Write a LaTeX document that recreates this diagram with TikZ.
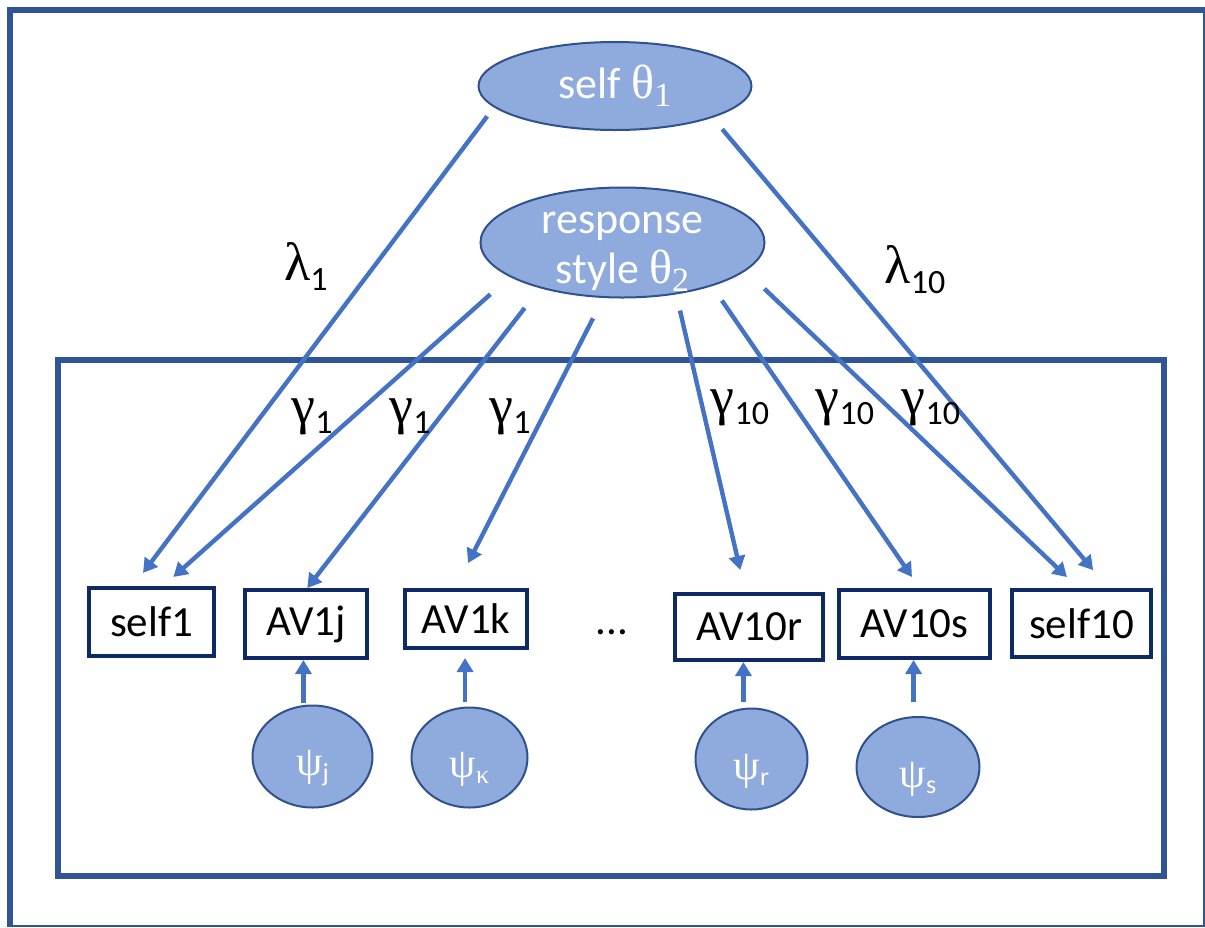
\documentclass[tikz,border=0pt]{standalone}
\usepackage{fontspec}
\setmainfont{Carlito}
\newfontfamily\grk{Liberation Serif}
\usetikzlibrary{arrows.meta,shapes.geometric}
\definecolor{ellfill}{HTML}{8FAADC}
\definecolor{elledge}{HTML}{2F528F}
\definecolor{arrc}{HTML}{4472C4}
\definecolor{boxc}{HTML}{0E2A66}
\definecolor{framec}{HTML}{2F5597}
\newcommand{\gk}[1]{{\grk\fontsize{27}{27}\selectfont #1}}
\newcommand{\gt}[1]{{\grk\fontsize{24}{24}\selectfont #1}}
\newcommand{\sub}[1]{\raisebox{-5pt}{\fontsize{17}{17}\selectfont #1}}
\newcommand{\gsub}[1]{\raisebox{-4pt}{\fontsize{17}{17}\selectfont\grk #1}}
\newcommand{\psub}[1]{\raisebox{-3pt}{\fontsize{13}{13}\selectfont #1}}
\newcommand{\low}[2]{\raisebox{-#1}[\height][\depth]{#2}}

\begin{document}
\begin{tikzpicture}[x=0.5pt,y=-0.5pt,
  lat/.style={ellipse,draw=elledge,fill=ellfill,line width=1pt,inner sep=0pt,text=white,align=center,font=\fontsize{22}{25}\selectfont},
  err/.style={lat,font=\grk\fontsize{21}{21}\selectfont},
  obs/.style={draw=boxc,line width=2pt,inner sep=0pt,font=\fontsize{21.5}{24}\selectfont},
  arr/.style={draw=arrc,line width=2.2pt,-{Triangle[length=7pt,width=8pt]}},
  lab/.style={font=\fontsize{22}{24}\selectfont}]
\useasboundingbox (0,0) rectangle (1205,927);
% frames
\draw[framec,line width=3pt] (10,927) -- (10,10) -- (1205,10);
\draw[framec,line width=0.8pt] (1204,10) -- (1204,926) -- (10,926);
\draw[framec,line width=3pt] (57.5,360) rectangle (1163.5,875.5);
% factors
\node[lat,minimum width=136.5pt,minimum height=44pt] (self) at (615,86) {self \gt{θ}\gsub{1}};
\node[lat,minimum width=142pt,minimum height=55pt] (resp) at (622.5,242.5) {\raisebox{-8pt}[0pt][0pt]{\begin{tabular}{@{}c@{}}response\\style \gt{θ}\gsub{2}\end{tabular}}};
% indicators
\node[obs,minimum width=62.5pt,minimum height=34pt] (self1) at (151.5,622) {self1};
\node[obs,minimum width=61pt,minimum height=34pt] (av1j) at (306,624) {AV1j};
\node[obs,minimum width=61pt,minimum height=29pt] (av1k) at (466,619) {AV1k};
\node[lab,font=\fontsize{21.5}{24}\selectfont] (dots) at (612,632) {...};
\node[obs,minimum width=74pt,minimum height=33pt] (av10r) at (749,627) {AV10r};
\node[obs,minimum width=75.5pt,minimum height=34pt] (av10s) at (914.5,624) {AV10s};
\node[obs,minimum width=69.5pt,minimum height=33.5pt] (self10) at (1081.5,623.5) {self10};
% uniquenesses
\node[err,minimum width=60pt,minimum height=51pt] (psij) at (312.5,756.5) {\low{6pt}{ψ\psub{\rmfamily j}}};
\node[err,minimum width=58pt,minimum height=50pt] (psik) at (469.5,757.5) {\low{6pt}{ψ\psub{κ}}};
\node[err,minimum width=56pt,minimum height=50.5pt] (psir) at (751.5,759) {\low{6pt}{ψ\psub{\rmfamily r}}};
\node[err,minimum width=61.5pt,minimum height=50pt] (psis) at (918,767) {\low{6pt}{ψ\psub{\rmfamily s}}};
% loadings
\draw[arr,shorten <=5.6pt,shorten >=8.2pt] (self.190.5) -- (self1.117);
\draw[arr,shorten <=7.5pt,shorten >=11.7pt] (self.342.9) -- (self10.53.3);
\draw[arr,shorten <=13pt,shorten >=6.8pt] (resp.197) -- (self1.72.4);
\draw[arr,shorten <=12.5pt] (resp.209.8) -- (av1j.88.4);
\draw[arr,shorten <=11.4pt,shorten >=14pt] (resp.251.9) -- (av1k.109.4);
\draw[arr,shorten <=8.3pt,shorten >=11.3pt] (resp.316.3) -- (av10r.96.4);
\draw[arr,shorten <=8.7pt,shorten >=6.7pt] (resp.334.6) -- (av10s.82.1);
\draw[arr,shorten <=12.9pt,shorten >=7.9pt] (resp.347.9) -- (self10.95);
\draw[arr,shorten <=1pt] (psij.100) -- (psij.100 |- av1j.south);
\draw[arr,shorten <=2.5pt,shorten >=4pt] (psik.95) -- (psik.95 |- av1k.south);
\draw[arr,shorten <=3pt] (psir.99.5) -- (psir.99.5 |- av10r.south);
\draw[arr,shorten <=7pt] (psis.95.6) -- (psis.95.6 |- av10s.south);
% labels
\node[lab] (lam1) at (306,266) {\gk{λ}\sub{1}};
\node[lab] (lam10) at (915,270) {\gk{λ}\sub{10}};
\node[lab] (g1a) at (312,417) {\gk{γ}\sub{1}};
\node[lab] (g1b) at (410,417) {\gk{γ}\sub{1}};
\node[lab] (g1c) at (510,417) {\gk{γ}\sub{1}};
\node[lab] (g10a) at (740,408) {\gk{γ}\sub{10}};
\node[lab] (g10b) at (845,408) {\gk{γ}\sub{10}};
\node[lab] (g10c) at (931,408) {\gk{γ}\sub{10}};
\end{tikzpicture}
\end{document}
